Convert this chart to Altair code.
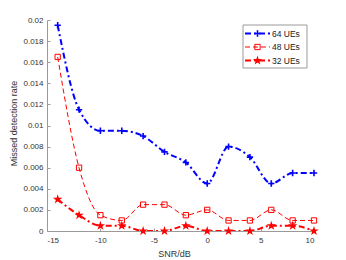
import altair as alt
import pandas as pd

snr = [-14, -12, -10, -8, -6, -4, -2, 0, 2, 4, 6, 8, 10]
ue64 = [0.0195, 0.0115, 0.0095, 0.0095, 0.009, 0.0075, 0.0065, 0.0045, 0.008, 0.007, 0.0045, 0.0055, 0.0055]
ue48 = [0.0165, 0.006, 0.0015, 0.001, 0.0025, 0.0025, 0.0015, 0.002, 0.001, 0.001, 0.002, 0.001, 0.001]
ue32 = [0.003, 0.0015, 0.0005, 0.0005, 0, 0, 0.0005, 0, 0, 0, 0.0005, 0.0005, 0]
names = ["64 UEs", "48 UEs", "32 UEs"]
x_ticks = [-15, -10, -5, 0, 5, 10]
y_ticks = [0, 0.002, 0.004, 0.006, 0.008, 0.01, 0.012, 0.014, 0.016, 0.018, 0.02]

W, H = 267, 211
FONT = "Liberation Sans"
BLUE = "#0000ff"
RED = "#ff0000"
PLUS = "M-1,0H1M0,-1V1"
STAR = ("M0,-1L0.2245,-0.309L0.9511,-0.309L0.3633,0.118L0.5878,0.809L0,0.382"
        "L-0.5878,0.809L-0.3633,0.118L-0.9511,-0.309L-0.2245,-0.309Z")

styles = [
    dict(color=BLUE, width=2, dash=[6, 3, 2, 3], shape=PLUS, size=40, filled=False, sw=1.6),
    dict(color=RED, width=1, dash=[5, 3], shape="square", size=28, filled=False, sw=1),
    dict(color=RED, width=2, dash=[6, 3, 2, 3], shape=STAR, size=100, filled=True, sw=0.5),
]

series = [ue64, ue48, ue32]
frames = [pd.DataFrame({"snr": snr, "rate": v}) for v in series]

xscale = alt.Scale(domain=[-15, 10], nice=False, zero=False)
yscale = alt.Scale(domain=[0, 0.02], nice=False)
fix = "replace(datum.label, '\u2212', '-')"

main_x_axis = alt.Axis(values=x_ticks, format="d", labelExpr=fix, title="SNR/dB",
                       grid=False, ticks=False, domainColor="#9a9a9a", labelColor="#333333",
                       labelFont=FONT, labelFontSize=8, labelPadding=5,
                       titleFont=FONT, titleFontSize=9, titleFontWeight="normal", titleColor="#333333",
                       titleX=127, titleY=25, titleBaseline="alphabetic", titleAlign="center")
main_y_axis = alt.Axis(values=y_ticks, format="~g", title="Missed detection rate",
                       grid=False, ticks=False, domainColor="#9a9a9a", labelColor="#333333",
                       labelFont=FONT, labelFontSize=8, labelPadding=4,
                       titleFont=FONT, titleFontSize=9, titleFontWeight="normal", titleColor="#333333",
                       titleX=-34, titleY=103, titleAngle=270, titleBaseline="middle", titleAlign="center")
tick_x_axis = alt.Axis(values=x_ticks, orient="top", offset=-H, labels=False, domain=False, grid=False,
                       ticks=True, tickSize=3, tickColor="#9a9a9a", title=None)
tick_y_axis = alt.Axis(values=y_ticks, orient="right", offset=-W, labels=False, domain=False, grid=False,
                       ticks=True, tickSize=3, tickColor="#9a9a9a", title=None)

layers = []
for i, (df, st) in enumerate(zip(frames, styles)):
    if i == 0:
        xa, ya = main_x_axis, main_y_axis
    elif i == 1:
        xa, ya = tick_x_axis, tick_y_axis
    else:
        xa, ya = None, None
    base = alt.Chart(df)
    line = base.mark_line(color=st["color"], strokeWidth=st["width"], strokeDash=st["dash"],
                          interpolate="monotone", clip=True).encode(
        x=alt.X("snr:Q", scale=xscale, axis=xa),
        y=alt.Y("rate:Q", scale=yscale, axis=ya),
    )
    pts = base.mark_point(shape=st["shape"], size=st["size"], filled=st["filled"],
                          color=st["color"], strokeWidth=st["sw"], opacity=1).encode(
        x=alt.X("snr:Q", scale=xscale, axis=None),
        y=alt.Y("rate:Q", scale=yscale, axis=None),
    )
    layers += [line, pts]

# legend
one = pd.DataFrame({"k": [0]})
box = alt.Chart(one).mark_rect(fill="white", stroke="#9a9a9a", strokeWidth=1).encode(
    x=alt.value(196), x2=alt.value(260), y=alt.value(5), y2=alt.value(48))
layers.append(box)
row_y = [13.5, 27, 40.5]
for name, st, yy in zip(names, styles, row_y):
    ldf = pd.DataFrame({"name": [name]})
    lb = alt.Chart(ldf)
    layers.append(lb.mark_rule(color=st["color"], strokeWidth=st["width"], strokeDash=st["dash"]).encode(
        x=alt.value(198), x2=alt.value(223), y=alt.value(yy)))
    layers.append(lb.mark_point(shape=st["shape"], size=st["size"], filled=st["filled"],
                                color=st["color"], strokeWidth=st["sw"], opacity=1).encode(
        x=alt.value(210.5), y=alt.value(yy)))
    layers.append(lb.mark_text(align="left", baseline="middle", font=FONT, fontSize=8.5,
                               color="#222222").encode(
        x=alt.value(225), y=alt.value(yy), text="name:N"))

chart = alt.layer(*layers).resolve_axis(x="independent", y="independent").properties(
    width=W, height=H,
    autosize=alt.AutoSizeParams(type="none"),
    padding={"left": 39, "top": 12, "right": 24, "bottom": 29},
).configure_view(stroke=None)

chart.save("out.html", embed_options={"renderer": "svg", "actions": False})
